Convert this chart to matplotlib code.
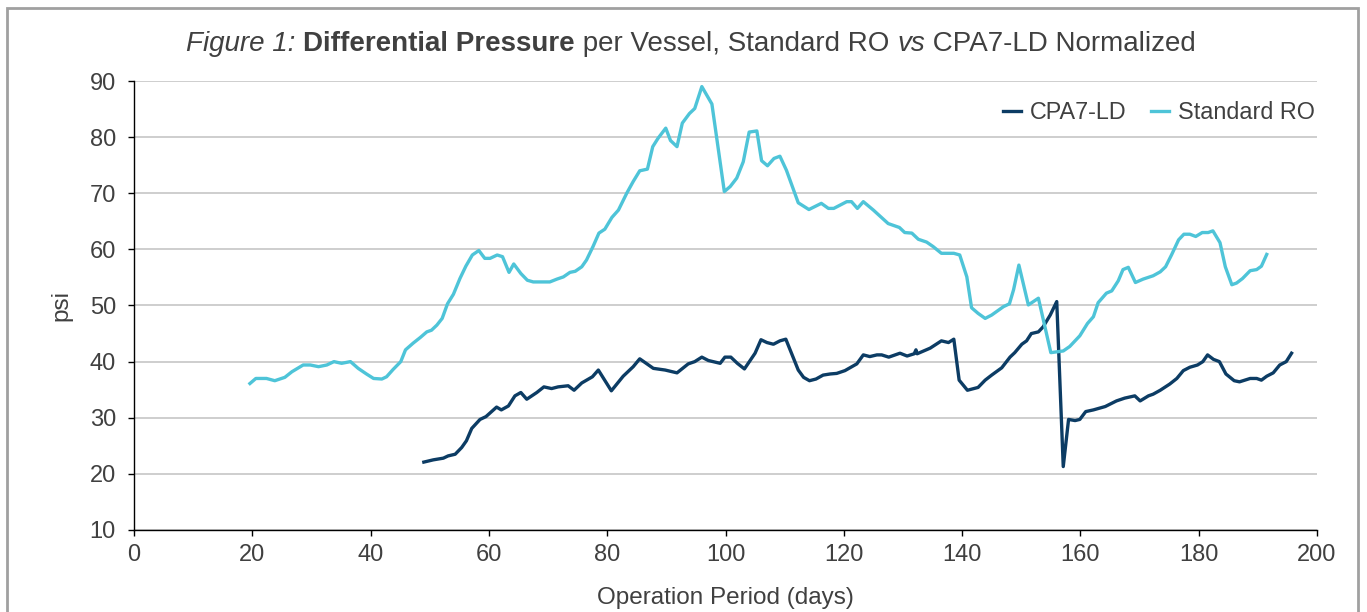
import matplotlib
matplotlib.use("Agg")
import matplotlib.pyplot as plt
from matplotlib.patches import Rectangle

plt.rcParams['font.family'] = ['Liberation Sans', 'DejaVu Sans']

# Standard RO series
ro_days = [19.6, 20.6, 22.4, 23.8, 25.5, 26.7, 28.6, 29.8, 31.2, 32.6, 33.8, 35.1, 36.6, 37.9,
           39.3, 40.5, 41.9, 42.7, 43.8, 45.1, 45.9, 47.2, 48.4, 49.5, 50.3, 51.2, 52.1, 53.0,
           54.0, 55.1, 56.1, 57.2, 58.3, 59.3, 60.2, 61.4, 62.3, 63.4, 64.2, 65.4, 66.5, 67.5,
           70.3, 71.5, 72.6, 73.7, 74.6, 75.7, 76.5, 77.6, 78.6, 79.6, 80.8, 81.9, 83.3, 84.4,
           85.5, 86.8, 87.7, 88.6, 89.9, 90.7, 91.8, 92.7, 93.9, 94.8, 96.0, 97.7, 99.8, 100.8,
           101.9, 103.0, 104.0, 105.3, 106.1, 107.1, 108.2, 109.2, 110.3, 112.3, 114.1, 116.2,
           117.4, 118.3, 120.5, 121.3, 122.3, 123.3, 125.0, 127.5, 129.4, 130.3, 131.5, 132.6,
           134.0, 135.1, 136.5, 138.6, 139.6, 140.8, 141.6, 142.7, 143.9, 145.0, 145.8, 147.0,
           148.0, 148.7, 149.6, 151.2, 152.9, 155.0, 157.1, 158.2, 159.9, 161.2, 162.2, 163.0,
           164.4, 165.3, 166.4, 167.2, 168.1, 169.3, 170.6, 172.3, 173.5, 174.4, 175.4, 176.6,
           177.5, 178.5, 179.5, 180.6, 181.6, 182.4, 183.6, 184.5, 185.6, 186.4, 187.4, 188.7,
           189.8, 190.6, 191.5]
ro_psi = [36.1, 37.0, 37.0, 36.6, 37.2, 38.2, 39.4, 39.4, 39.1, 39.4, 40.0, 39.7, 40.0, 38.8,
          37.8, 37.0, 36.9, 37.3, 38.6, 40.0, 42.1, 43.3, 44.3, 45.3, 45.6, 46.5, 47.7, 50.3,
          52.0, 54.8, 57.0, 59.0, 59.8, 58.4, 58.4, 59.0, 58.7, 55.9, 57.4, 55.7, 54.5, 54.2,
          54.2, 54.7, 55.1, 55.9, 56.1, 56.9, 58.1, 60.5, 62.9, 63.6, 65.7, 67.0, 70.0, 72.1,
          74.0, 74.3, 78.3, 79.8, 81.6, 79.4, 78.3, 82.5, 84.2, 85.1, 89.0, 85.9, 70.3, 71.2,
          72.7, 75.6, 80.9, 81.1, 75.8, 74.9, 76.2, 76.6, 74.1, 68.3, 67.1, 68.2,
          67.3, 67.3, 68.5, 68.5, 67.3, 68.5, 67.0, 64.6, 63.9, 63.0, 62.9, 61.8,
          61.3, 60.5, 59.3, 59.3, 59.0, 55.1, 49.6, 48.6, 47.7, 48.3, 48.9, 49.8,
          50.3, 52.8, 57.2, 50.1, 51.3, 41.6, 41.9, 42.7, 44.6, 46.8, 48.0, 50.5,
          52.2, 52.6, 54.4, 56.4, 56.8, 54.1, 54.7, 55.3, 56.0, 56.9, 59.0, 61.7,
          62.7, 62.7, 62.3, 63.0, 63.0, 63.3, 61.2, 56.9, 53.7, 54.0, 54.8, 56.2,
          56.4, 57.0, 59.1]

# CPA7-LD series
cpa_days = [49.0, 50.6, 52.3, 53.1, 54.3, 55.4, 56.2, 57.1, 58.5, 59.5, 61.3, 62.1, 63.3, 64.4,
            65.4, 66.4, 68.1, 69.3, 70.6, 71.7, 73.4, 74.4, 75.7, 77.5, 78.5, 80.7, 82.7, 84.4,
            85.5, 87.8, 89.8, 91.8, 93.7, 94.8, 96.0, 97.1, 99.1, 99.9, 100.9, 102.0, 103.2,
            105.0, 106.0, 107.0, 108.1, 109.2, 110.2, 112.3, 113.2, 114.2, 115.3, 116.5, 117.7,
            118.8, 120.2, 122.2, 123.3, 124.4, 125.6, 126.4, 127.6, 129.5, 130.7, 131.9, 132.2,
            132.4, 134.6, 136.5, 137.7, 138.6, 139.5, 140.9, 142.7, 143.9, 145.0, 146.7, 148.1,
            148.9, 150.1, 150.9, 151.7, 152.9, 153.7, 154.9, 156.0, 157.1, 158.0, 159.1, 159.9,
            160.9, 162.2, 164.2, 166.1, 167.5, 169.2, 170.1, 171.5, 172.3, 173.5, 175.1, 176.3,
            177.4, 178.5, 179.8, 180.7, 181.5, 182.5, 183.5, 184.6, 186.0, 186.9, 188.7, 189.8,
            190.6, 191.5, 192.6, 193.7, 194.8, 195.7]
cpa_psi = [22.1, 22.5, 22.8, 23.2, 23.5, 24.7, 25.9, 28.1, 29.7, 30.2, 31.9, 31.4, 32.1, 33.9,
           34.5, 33.3, 34.5, 35.5, 35.2, 35.5, 35.7, 34.9, 36.2, 37.3, 38.5, 34.8, 37.4, 39.1,
           40.5, 38.8, 38.5, 38.0, 39.6, 40.0, 40.8, 40.2, 39.7, 40.8, 40.8, 39.7, 38.7,
           41.5, 43.9, 43.4, 43.1, 43.7, 44.0, 38.5, 37.2, 36.6, 36.9, 37.6, 37.8,
           37.9, 38.4, 39.6, 41.2, 40.9, 41.2, 41.2, 40.8, 41.5, 41.0, 41.4, 42.1,
           41.4, 42.4, 43.7, 43.4, 44.0, 36.7, 34.9, 35.4, 36.7, 37.6, 38.9, 40.8,
           41.6, 43.1, 43.7, 45.0, 45.3, 46.2, 48.3, 50.7, 21.3, 29.7, 29.5, 29.7,
           31.1, 31.4, 32.0, 33.0, 33.5, 33.9, 33.0, 33.9, 34.2, 34.9, 36.0, 37.0,
           38.4, 39.0, 39.4, 40.0, 41.2, 40.4, 40.0, 37.8, 36.6, 36.4, 37.0, 37.0,
           36.7, 37.4, 38.0, 39.4, 40.0, 41.5]

x_ticks = [0, 20, 40, 60, 80, 100, 120, 140, 160, 180, 200]
y_ticks = [10, 20, 30, 40, 50, 60, 70, 80, 90]

TXT = '#404040'

fig = plt.figure(figsize=(13.67, 6.12), dpi=100)
ax = fig.add_axes([134/1367, 1-530/612, (1317-134)/1367, (530-81)/612])

ax.plot(cpa_days, cpa_psi, color='#0c3c64', lw=2.4, label='CPA7-LD', solid_joinstyle='round')
ax.plot(ro_days, ro_psi, color='#4ec4d8', lw=2.4, label='Standard RO', solid_joinstyle='round')

ax.set_xlim(0, 200)
ax.set_ylim(10, 90)
ax.set_xticks(x_ticks)
ax.set_yticks(y_ticks)
ax.grid(axis='y', color='#c6c6c6', lw=1.2)
ax.set_axisbelow(True)
for s in ['top', 'right']:
    ax.spines[s].set_visible(False)
for s in ['left', 'bottom']:
    ax.spines[s].set_color('black')
    ax.spines[s].set_linewidth(1.0)
ax.tick_params(axis='both', labelsize=17, colors='black', labelcolor=TXT, length=4, width=1)
ax.tick_params(axis='x', pad=6)
ax.tick_params(axis='y', pad=9)
ax.set_xlabel('Operation Period (days)', fontsize=17.5, color=TXT, labelpad=15)
ax.set_ylabel('psi', fontsize=17.5, color=TXT, labelpad=12)

leg = ax.legend(loc='upper right', ncol=2, frameon=False, fontsize=16.8, handlelength=0.75,
                columnspacing=1.05, handletextpad=0.4, bbox_to_anchor=(1.016, 1.002),
                labelcolor=TXT)

# Title with mixed styles
title_parts = [('Figure 1: ', 'italic', 'normal'), ('Differential Pressure', 'normal', 'bold'),
               (' per Vessel, Standard RO ', 'normal', 'normal'), ('vs', 'italic', 'normal'),
               (' CPA7-LD Normalized', 'normal', 'normal')]
renderer = fig.canvas.get_renderer()
texts = []
for s, style, weight in title_parts:
    t = fig.text(0, 1-44/612, s, fontsize=20, style=style, weight=weight, color=TXT,
                 va='center', ha='left')
    texts.append(t)
widths = [t.get_window_extent(renderer=renderer).width for t in texts]
total = sum(widths)
cur = (691 - total/2) / 1367
for t, w in zip(texts, widths):
    t.set_x(cur)
    cur += w / 1367

fig.patches.append(Rectangle((7/1367, -0.05), (1358-7)/1367, 1.05 - 8/612, transform=fig.transFigure,
                             fill=False, edgecolor='#a0a0a0', lw=2))

fig.savefig('out.png', dpi=100)
